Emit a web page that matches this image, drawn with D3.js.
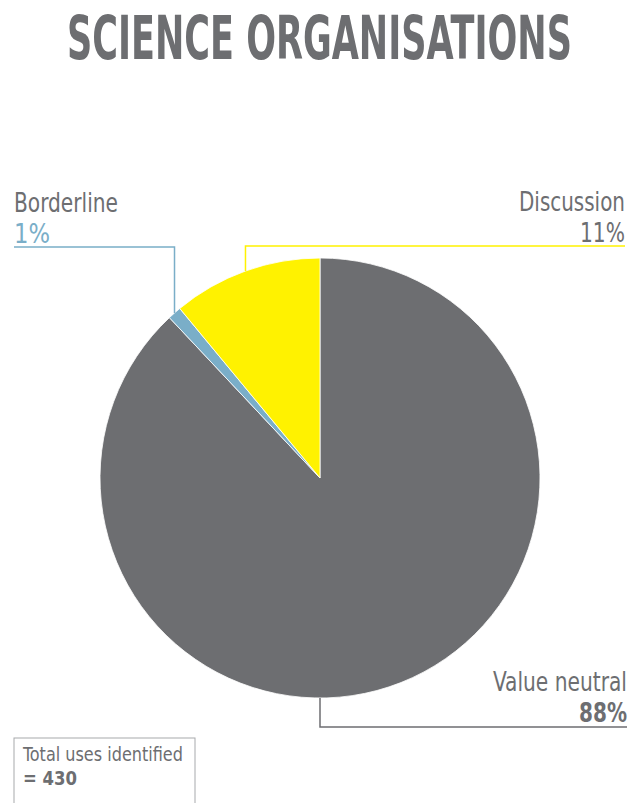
<!DOCTYPE html>
<html>
<head>
<meta charset="utf-8">
<script src="https://cdn.jsdelivr.net/npm/d3@7"></script>
<style>
  body { margin: 0; background: #fff; }
  svg { display: block; }
  text { font-family: "DejaVu Sans Condensed", "DejaVu Sans", sans-serif; font-stretch: condensed; }
</style>
</head>
<body>
<div id="chart"></div>
<script>
// data
var categories = ["Value neutral", "Borderline", "Discussion"];
var shares = [88, 1, 11];
var shareLabels = ["88%", "1%", "11%"];
var colours = ["#6d6e71", "#7aaec8", "#fff200"];
var totalUses = 430;

var width = 629, height = 803;
var cx = 320, cy = 478, radius = 220;
var grey = "#6d6e71";

var svg = d3.select("#chart").append("svg")
  .attr("width", width)
  .attr("height", height);

// draws text squeezed sideways so it fills a given width (the original uses a narrow face)
function narrowText(str, x, y, w, size, weight, fill, anchor) {
  var t = svg.append("text")
    .style("font-size", size + "px")
    .style("font-weight", weight)
    .style("fill", fill)
    .text(str);
  var natural = t.node().getComputedTextLength();
  var k = w / natural;
  var left = anchor === "end" ? x - w : x;
  t.attr("transform", "translate(" + left + "," + y + ") scale(" + k + ",1)");
  return t;
}

// title
narrowText("SCIENCE ORGANISATIONS", 67, 59, 505, 60, "bold", grey, "start");

var pie = d3.pie().sort(null).value(function (d) { return d; });
var arcs = pie(shares);
var arc = d3.arc().innerRadius(0).outerRadius(radius);

var g = svg.append("g").attr("transform", "translate(" + cx + "," + cy + ")");

g.selectAll("path")
  .data(arcs)
  .enter()
  .append("path")
  .attr("d", arc)
  .style("fill", function (d, i) { return colours[i]; })
  .style("stroke", "#fff")
  .style("stroke-width", 0.8);

// label layout: where the leader line runs, and where the text sits
var labelSpec = [
  { anchorAngle: Math.PI, lineY: 727, side: "right", x: 627, nameY: 691, pctY: 722, nameW: 134, pctW: 48, bold: true },
  { anchorAngle: null, lineY: 247, side: "left", x: 14, nameY: 212, pctY: 243, nameW: 104, pctW: 36, bold: false },
  { anchorAngle: null, lineY: 246, side: "right", x: 625, nameY: 211, pctY: 242, nameW: 106, pctW: 45, bold: false }
];

arcs.forEach(function (d, i) {
  var spec = labelSpec[i];
  var a = spec.anchorAngle !== null ? spec.anchorAngle : (d.startAngle + d.endAngle) / 2;
  var px = cx + radius * Math.sin(a);
  var py = cy - radius * Math.cos(a);

  var pts = spec.side === "left"
    ? [[spec.x, spec.lineY], [px, spec.lineY], [px, py]]
    : [[px, py], [px, spec.lineY], [spec.x, spec.lineY]];

  svg.append("path")
    .attr("d", d3.line()(pts))
    .style("fill", "none")
    .style("stroke", colours[i])
    .style("stroke-width", 1.5);

  var anchor = spec.side === "left" ? "start" : "end";
  narrowText(categories[i], spec.x, spec.nameY, spec.nameW, 26, "normal", grey, anchor);
  narrowText(shareLabels[i], spec.x, spec.pctY, spec.pctW, 26, spec.bold ? "bold" : "normal",
    i === 1 ? colours[1] : grey, anchor);
});

// total box
svg.append("rect")
  .attr("x", 14)
  .attr("y", 738)
  .attr("width", 181)
  .attr("height", 80)
  .style("fill", "none")
  .style("stroke", "#a7a9ac")
  .style("stroke-width", 1);

narrowText("Total uses identified", 23, 761, 160, 20, "normal", grey, "start");
narrowText("= " + totalUses, 23, 785, 54, 20, "bold", grey, "start");
</script>
</body>
</html>
